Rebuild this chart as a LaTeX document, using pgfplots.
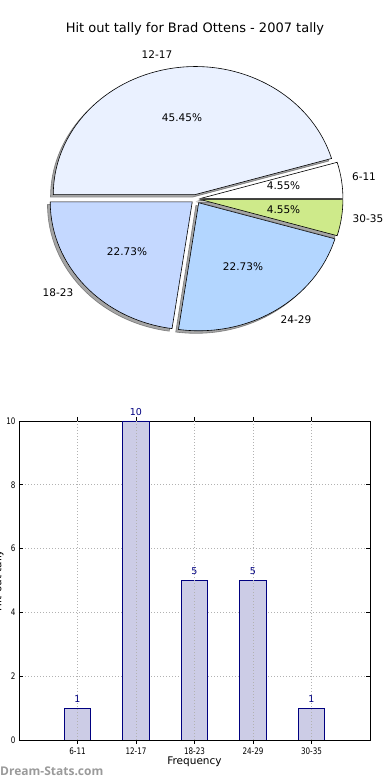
\documentclass[border=0pt]{standalone}
\usepackage{pgfplots}
\pgfplotsset{compat=1.18}
\usepackage{pgfplotstable}
\usepackage{fontspec}
\setmainfont{DejaVu Sans}
\newfontfamily\tickfont[FakeStretch=0.8]{DejaVu Sans}
\newfontfamily\wmfont{Open Sans}
\definecolor{pieA}{HTML}{FFFFFF}
\definecolor{pieB}{HTML}{EAF1FF}
\definecolor{pieC}{HTML}{C4D8FF}
\definecolor{pieD}{HTML}{B3D6FF}
\definecolor{pieE}{HTML}{CEEA8A}
\definecolor{barfill}{HTML}{CCCCE6}
\definecolor{navy}{HTML}{000080}
\definecolor{wm}{HTML}{9A9A9A}

\pgfplotstableread{
label count color
6-11 1 pieA
12-17 10 pieB
18-23 5 pieC
24-29 5 pieD
30-35 1 pieE
}\piedata

\pgfplotstableread{
x count
1 1
2 10
3 5
4 5
5 1
}\bardata

\begin{document}
\begin{tikzpicture}
% ---------------- pie ----------------
\begin{axis}[at={(0pt,390pt)}, anchor=south west, scale only axis,
  width=390pt, height=390pt, xmin=-196, xmax=194, ymin=-191, ymax=199,
  hide axis, clip=false]
\addplot[draw=none] coordinates {(0,0)};
\pgfplotsextra{%
  \xdef\total{0}%
  \foreach \i in {0,...,4}{%
    \pgfplotstablegetelem{\i}{count}\of\piedata
    \pgfmathsetmacro\t{\total+\pgfplotsretval}%
    \xdef\total{\t}%
  }%
  \xdef\cumA{0}%
  \foreach \i in {0,...,4}{%
    \pgfplotstablegetelem{\i}{count}\of\piedata \edef\cnt{\pgfplotsretval}%
    \pgfplotstablegetelem{\i}{color}\of\piedata \edef\col{\pgfplotsretval}%
    \pgfmathsetmacro\sa{\cumA}%
    \pgfmathsetmacro\ea{\cumA+\cnt*360/\total}%
    \pgfmathsetmacro\ma{(\sa+\ea)/2}%
    \pgfmathsetmacro\ox{0.035*142*cos(\ma)}%
    \pgfmathsetmacro\oy{0.035*128*sin(\ma)}%
    \filldraw[fill=black!70, draw=black!80, fill opacity=0.5, draw opacity=0.5, line width=0.6pt]
      (axis cs:{\ox-2.8},{\oy-2.6}) -- ++(\sa:142pt and 128pt)
      arc[start angle=\sa, end angle=\ea, x radius=142pt, y radius=128pt] -- cycle;
    \filldraw[fill=\col, draw=black, line width=0.6pt]
      (axis cs:\ox,\oy) -- ++(\sa:142pt and 128pt)
      arc[start angle=\sa, end angle=\ea, x radius=142pt, y radius=128pt] -- cycle;
    \xdef\cumA{\ea}%
  }%
}
\end{axis}
% ---------------- bars ----------------
\begin{axis}[at={(19pt,40pt)}, anchor=south west, scale only axis,
  width=351pt, height=319pt,
  xmin=0, xmax=6, ymin=0, ymax=10,
  xtick={1,...,5}, xticklabels={6-11,12-17,18-23,24-29,30-35},
  ytick={0,2,...,10},
  tick align=inside, major tick length=4pt,
  tick style={black, line width=0.6pt},
  axis line style={line width=0.8pt},
  ymajorgrids,
  grid style={gray!60, dash pattern=on 1pt off 2pt, line width=0.8pt},
  ticklabel style={font=\tickfont\fontsize{9}{10}\selectfont},
  /pgf/number format/assume math mode=true,
  xlabel={Frequency}, xlabel style={font=\fontsize{10.5}{12}\selectfont, yshift=4pt},
  ybar, bar width=0.45,
  nodes near coords,
  nodes near coords style={text=navy, font=\fontsize{9.5}{11}\selectfont, inner sep=0pt, yshift=5pt},
]
\addplot[fill=barfill, draw=navy, line width=0.8pt] table[x=x, y=count] {\bardata};
\pgfplotsinvokeforeach{1,...,5}{%
  \draw[gray!60, dash pattern=on 1pt off 2pt, line width=0.8pt] (axis cs:#1,0) -- (axis cs:#1,10);
}
\end{axis}
% ---------------- texts ----------------
\node[anchor=base, font=\fontsize{13}{15}\selectfont, inner sep=0] at (195pt,747pt) {Hit out tally for Brad Ottens - 2007 tally};
\begin{scope}[every node/.style={font=\fontsize{10.5}{12}\selectfont, inner sep=0}]
\node at (157pt,725pt) {12-17};
\node at (182pt,662pt) {45.45\%};
\node at (364pt,603pt) {6-11};
\node at (283.5pt,594pt) {4.55\%};
\node at (283.5pt,570pt) {4.55\%};
\node at (368pt,561pt) {30-35};
\node at (127pt,528pt) {22.73\%};
\node at (243pt,513pt) {22.73\%};
\node at (58pt,487pt) {18-23};
\node at (296pt,460pt) {24-29};
\end{scope}
\node[rotate=90, anchor=base, font=\fontsize{10.5}{12}\selectfont, inner sep=0] at (1.5pt,199.5pt) {Hit out tally};
\node[anchor=base west, font=\wmfont\bfseries\fontsize{12}{14}\selectfont, text=wm, inner sep=0] at (0pt,5pt) {Dream-Stats.com};
\pgfresetboundingbox
\useasboundingbox (0pt,0pt) rectangle (390pt,780pt);
\end{tikzpicture}
\end{document}
